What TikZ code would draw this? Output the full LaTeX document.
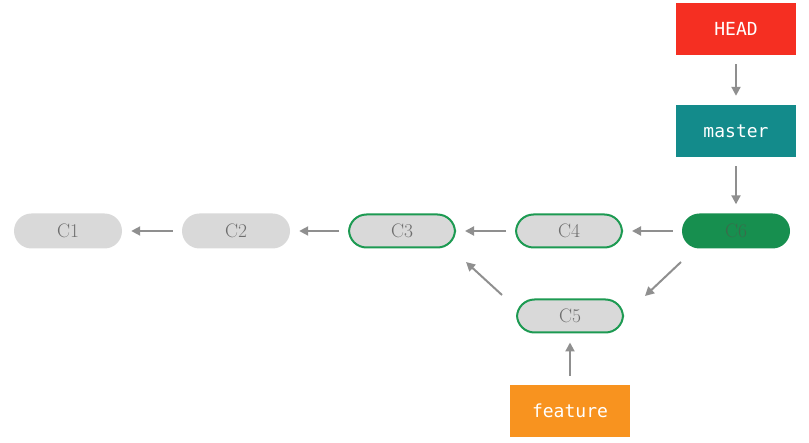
\documentclass[tikz,border=0pt]{standalone}
\usepackage{fontspec}
\newfontfamily\monofont{DejaVu Sans Mono}
\usetikzlibrary{arrows.meta,calc}
\definecolor{cfill}{HTML}{D9D9D9}
\definecolor{ctext}{HTML}{6E6E6E}
\definecolor{cgreen}{HTML}{1D9A52}
\definecolor{cdark}{HTML}{178F4F}
\definecolor{cdarktext}{HTML}{3B6B4B}
\definecolor{chead}{HTML}{F52F22}
\definecolor{cmaster}{HTML}{138B8B}
\definecolor{cfeature}{HTML}{F8931F}
\definecolor{carrow}{HTML}{8F8F8F}
\tikzset{
  commit/.style={rectangle, rounded corners=17.5pt, minimum width=108pt, minimum height=35pt,
    fill=cfill, text=ctext, inner sep=0pt, font=\fontsize{19.5}{22}\selectfont},
  active/.style={commit, draw=cgreen, line width=2pt, minimum width=106pt, minimum height=33pt},
  headc/.style={commit, fill=cdark, text=cdarktext, draw=none},
  ref/.style={rectangle, minimum width=120pt, minimum height=52pt, inner sep=0pt,
    text=white, font=\monofont\fontsize{18}{21}\selectfont},
  arr/.style={draw=carrow, line width=2pt, -{Triangle[length=9pt,width=9pt]}, shorten <=9pt, shorten >=9pt}
}
\begin{document}
\begin{tikzpicture}[x=1pt,y=-1pt]
\useasboundingbox (0,0) rectangle (809,443);
\node[commit] (c1) at (68,231) {C1};
\node[commit] (c2) at (236,231) {C2};
\node[active] (c3) at (402,231) {C3};
\node[active] (c4) at (569,231) {C4};
\node[headc] (c6) at (736,231) {C6};
\node[active] (c5) at (570,316) {C5};
\node[ref, fill=chead] (head) at (736,29) {HEAD};
\node[ref, fill=cmaster] (master) at (736,131) {master};
\node[ref, fill=cfeature] (feature) at (570,411) {feature};
\coordinate (s1) at ($(c6)+(-55,31)$);
\coordinate (e1) at ($(c5)+(75,-20)$);
\coordinate (s2) at ($(c5)+(-68,-21)$);
\coordinate (e2) at ($(c3)+(64,31)$);
\draw[arr] (c2) -- (c1);
\draw[arr] (c3) -- (c2);
\draw[arr] (c4) -- (c3);
\draw[arr] (c6) -- (c4);
\draw[arr, shorten <=0pt, shorten >=0pt] (s1) -- (e1);
\draw[arr, shorten <=0pt, shorten >=0pt] (s2) -- (e2);
\draw[arr] (feature) -- (c5);
\draw[arr] (head) -- (master);
\draw[arr] (master) -- (c6);
\end{tikzpicture}
\end{document}
